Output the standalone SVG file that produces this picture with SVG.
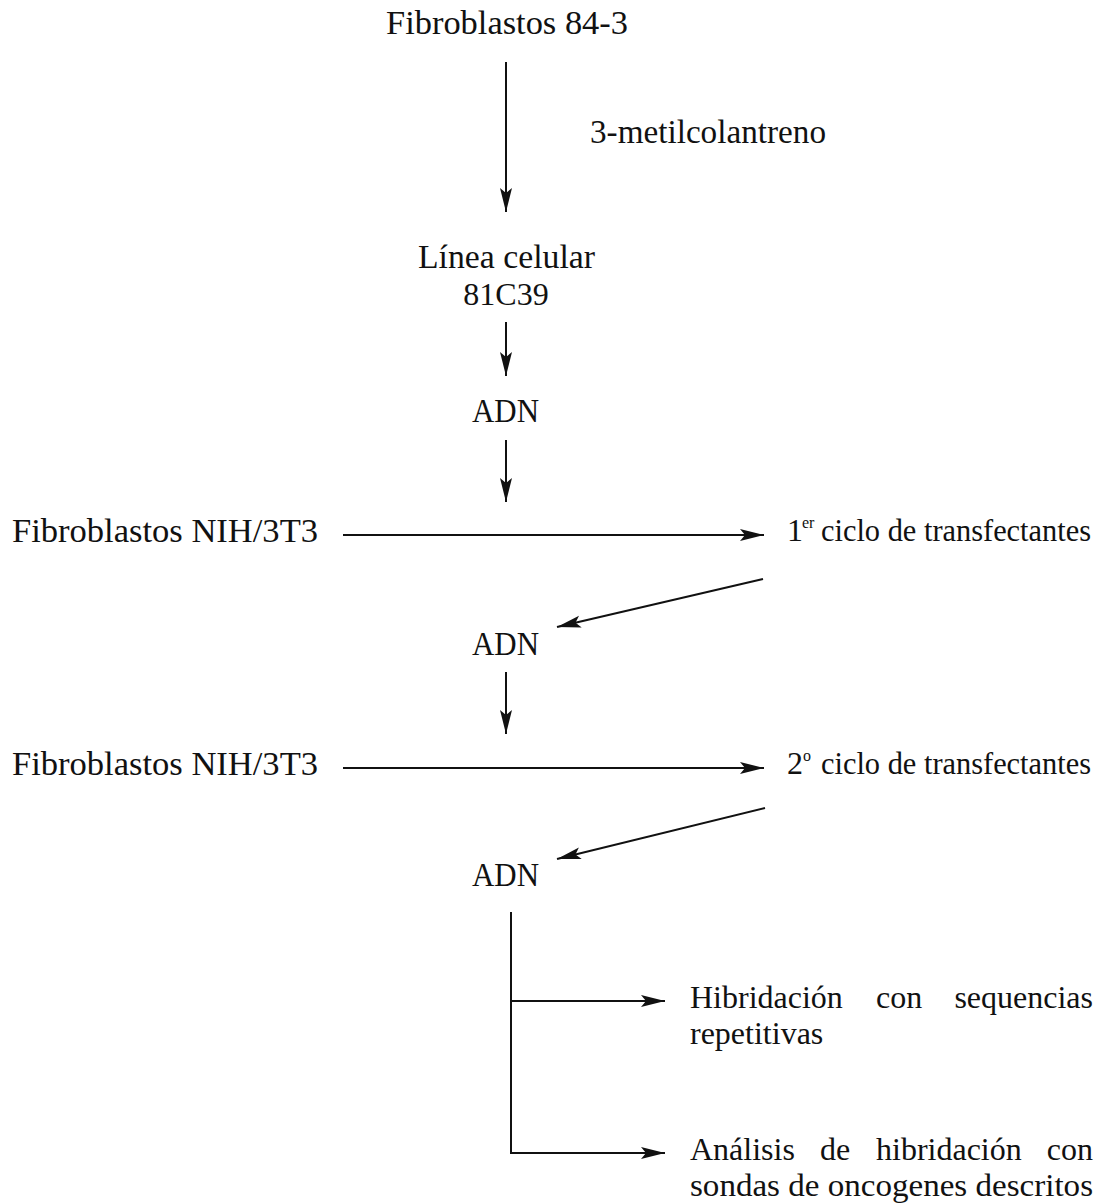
<svg xmlns="http://www.w3.org/2000/svg" width="1105" height="1203" viewBox="0 0 1105 1203">
<style>
text{font-family:"Liberation Serif","Times New Roman",serif;font-size:33px;fill:#111}
.s{font-size:32px}
.sup{font-size:16px}
.c{stroke:#111;stroke-width:2;fill:none}
</style>
<defs>
<marker id="ah" markerUnits="userSpaceOnUse" markerWidth="26" markerHeight="14" refX="24" refY="7" orient="auto">
<path d="M0,1 L24,7 L0,13 L5,7 Z" fill="#111"/>
</marker>
</defs>
<rect width="1105" height="1203" fill="#fff"/>
<g id="connectors">
<line class="c" x1="506" y1="62" x2="506" y2="212" marker-end="url(#ah)"/>
<line class="c" x1="506" y1="322" x2="506" y2="376" marker-end="url(#ah)"/>
<line class="c" x1="506" y1="440" x2="506" y2="502" marker-end="url(#ah)"/>
<line class="c" x1="343" y1="535" x2="764" y2="535" marker-end="url(#ah)"/>
<line class="c" x1="763" y1="579" x2="557" y2="627" marker-end="url(#ah)"/>
<line class="c" x1="506" y1="672" x2="506" y2="734" marker-end="url(#ah)"/>
<line class="c" x1="343" y1="768" x2="764" y2="768" marker-end="url(#ah)"/>
<line class="c" x1="765" y1="808" x2="557" y2="859" marker-end="url(#ah)"/>
<line class="c" x1="511" y1="912" x2="511" y2="1154"/>
<line class="c" x1="510" y1="1001" x2="665" y2="1001" marker-end="url(#ah)"/>
<line class="c" x1="510" y1="1153" x2="665" y2="1153" marker-end="url(#ah)"/>
</g>
<g id="n-fib843"><text x="386" y="34" textLength="242" lengthAdjust="spacingAndGlyphs">Fibroblastos 84-3</text></g>
<g id="n-metil"><text x="590" y="143" textLength="236" lengthAdjust="spacingAndGlyphs">3-metilcolantreno</text></g>
<g id="n-linea"><text x="418" y="268" textLength="177" lengthAdjust="spacingAndGlyphs">Línea celular</text><text class="s" x="506" y="305" text-anchor="middle">81C39</text></g>
<g id="n-adn1"><text x="472" y="422" textLength="67" lengthAdjust="spacingAndGlyphs">ADN</text></g>
<g id="n-nih1"><text x="12" y="542" textLength="306" lengthAdjust="spacingAndGlyphs">Fibroblastos NIH/3T3</text></g>
<g id="n-ciclo1"><text class="s" x="787" y="541">1</text><text class="sup" x="802" y="528">er</text><text class="s" x="821" y="541" textLength="270" lengthAdjust="spacingAndGlyphs">ciclo de transfectantes</text></g>
<g id="n-adn2"><text x="472" y="655" textLength="67" lengthAdjust="spacingAndGlyphs">ADN</text></g>
<g id="n-nih2"><text x="12" y="775" textLength="306" lengthAdjust="spacingAndGlyphs">Fibroblastos NIH/3T3</text></g>
<g id="n-ciclo2"><text class="s" x="787" y="774">2</text><text class="sup" x="803" y="761">o</text><text class="s" x="821" y="774" textLength="270" lengthAdjust="spacingAndGlyphs">ciclo de transfectantes</text></g>
<g id="n-adn3"><text x="472" y="886" textLength="67" lengthAdjust="spacingAndGlyphs">ADN</text></g>
<g id="n-hib"><text class="s" x="690" y="1008">Hibridación</text><text class="s" x="876" y="1008">con</text><text class="s" x="1093" y="1008" text-anchor="end">sequencias</text><text class="s" x="690" y="1044">repetitivas</text></g>
<g id="n-anal"><text class="s" x="690" y="1160">Análisis</text><text class="s" x="820" y="1160">de</text><text class="s" x="876" y="1160">hibridación</text><text class="s" x="1093" y="1160" text-anchor="end">con</text><text class="s" x="690" y="1196" textLength="403" lengthAdjust="spacingAndGlyphs">sondas de oncogenes descritos</text></g>
</svg>
